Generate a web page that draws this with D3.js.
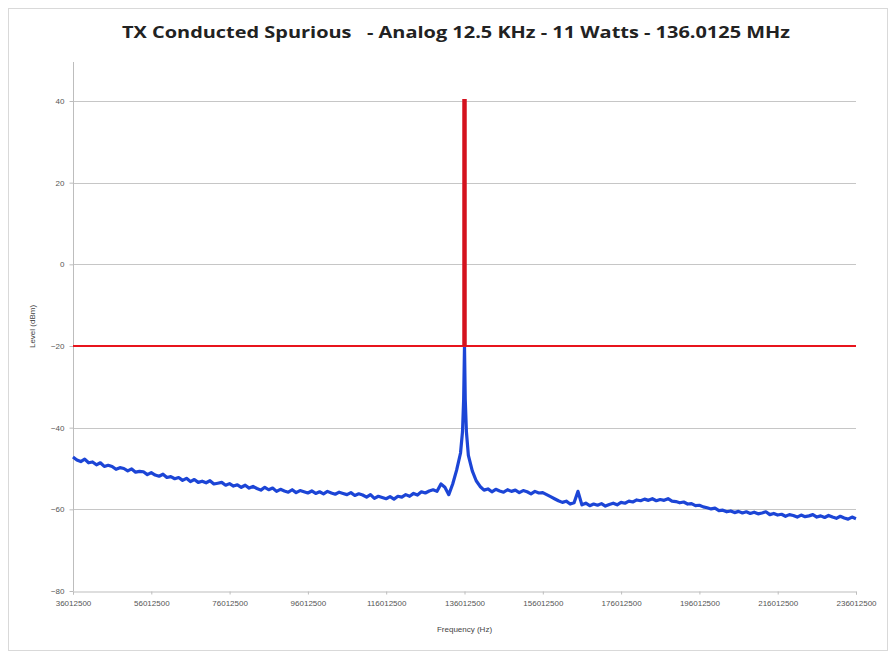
<!DOCTYPE html>
<html>
<head>
<meta charset="utf-8">
<script src="https://cdn.jsdelivr.net/npm/d3@7/dist/d3.min.js"></script>
<style>
  html, body { margin: 0; padding: 0; background: #fff; }
  svg { display: block; }
</style>
</head>
<body>
<svg id="chart" width="891" height="652"></svg>
<script>
// ---------------- DATA ----------------
const titleText = "TX Conducted Spurious   - Analog 12.5 KHz - 11 Watts - 136.0125 MHz";
const yAxisTitle = "Level (dBm)";
const xAxisTitle = "Frequency (Hz)";

// x ticks (MHz) and their labels (Hz)
const xTickValues = [36.0125, 56.0125, 76.0125, 96.0125, 116.0125, 136.0125, 156.0125, 176.0125, 196.0125, 216.0125, 236.0125];
const xTickLabels = ["36012500", "56012500", "76012500", "96012500", "116012500", "136012500", "156012500", "176012500", "196012500", "216012500", "236012500"];
const yTickValues = [-80, -60, -40, -20, 0, 20, 40];

// measured trace (frequency in MHz, level in dBm)
const traceFreq = [
  36, 37, 38, 39, 40, 41, 42, 43, 44, 45,
  46, 47, 48, 49, 50, 51, 52, 53, 54, 55,
  56, 57, 58, 59, 60, 61, 62, 63, 64, 65,
  66, 67, 68, 69, 70, 71, 72, 73, 74, 75,
  76, 77, 78, 79, 80, 81, 82, 83, 84, 85,
  86, 87, 88, 89, 90, 91, 92, 93, 94, 95,
  96, 97, 98, 99, 100, 101, 102, 103, 104, 105,
  106, 107, 108, 109, 110, 111, 112, 113, 114, 115,
  116, 117, 118, 119, 120, 121, 122, 123, 124, 125,
  126, 127, 128, 129, 130, 131, 132, 133, 134, 135,
  135.5, 135.8, 136.0125, 136.2, 136.5,
  137, 138, 139, 140, 141, 142, 143, 144, 145, 146,
  147, 148, 149, 150, 151, 152, 153, 154, 155, 156,
  157, 158, 159, 160, 161, 162, 163, 164, 165, 166,
  167, 168, 169, 170, 171, 172, 173, 174, 175, 176,
  177, 178, 179, 180, 181, 182, 183, 184, 185, 186,
  187, 188, 189, 190, 191, 192, 193, 194, 195, 196,
  197, 198, 199, 200, 201, 202, 203, 204, 205, 206,
  207, 208, 209, 210, 211, 212, 213, 214, 215, 216,
  217, 218, 219, 220, 221, 222, 223, 224, 225, 226,
  227, 228, 229, 230, 231, 232, 233, 234, 235, 236
];
const traceLevel = [
  -47.2, -47.9, -48.3, -47.7, -48.6, -48.4, -49.1, -48.6, -49.5, -49.2,
  -49.5, -50.2, -49.8, -50.0, -50.6, -50.1, -50.9, -50.7, -50.8, -51.5,
  -51.0, -51.6, -51.9, -51.4, -52.2, -52.0, -52.5, -52.2, -52.9, -52.4,
  -53.2, -52.7, -53.4, -53.1, -53.5, -53.0, -53.8, -53.6, -53.4, -54.1,
  -53.7, -54.3, -54.0, -54.6, -54.1, -54.8, -54.4, -54.9, -55.3, -54.6,
  -55.2, -54.8, -55.6, -55.1, -55.5, -55.8, -55.2, -55.9, -55.4, -55.7,
  -56.0, -55.5, -56.1, -55.7, -56.2, -55.6, -56.0, -56.3, -55.8, -56.1,
  -56.4, -55.9, -56.6, -56.2, -56.5, -57.0, -56.4, -57.3, -56.8, -57.1,
  -57.4, -56.9, -57.5, -56.8, -57.0, -56.4, -56.8, -56.1, -56.5, -55.7,
  -56.0, -55.5, -55.2, -55.6, -53.8, -54.6, -56.4, -53.8, -50.4, -46.2,
  -41.0, -33.0, -20.0, -33.0, -41.0,
  -46.8, -50.6, -53.0, -54.4, -55.3, -55.0, -55.7, -55.1, -55.5, -55.8,
  -55.2, -55.6, -55.3, -55.9, -55.4, -55.7, -56.2, -55.6, -56.0, -55.9,
  -56.4, -56.9, -57.4, -57.9, -58.3, -58.0, -58.7, -58.4, -55.6, -58.9,
  -58.5, -59.1, -58.7, -59.0, -58.6, -59.2, -58.8, -58.5, -58.9, -58.3,
  -58.5, -58.0, -58.2, -57.7, -57.9, -57.5, -57.8, -57.4, -57.9, -57.6,
  -57.8, -57.4, -58.0, -58.1, -58.4, -58.2, -58.7, -58.6, -59.1, -59.0,
  -59.4, -59.6, -59.9, -59.7, -60.3, -60.2, -60.6, -60.4, -60.8, -60.5,
  -60.9, -60.6, -61.0, -60.7, -61.1, -60.9, -60.6, -61.3, -61.0, -61.4,
  -61.2, -61.7, -61.3, -61.5, -61.9, -61.4, -61.8, -61.6, -61.3, -61.9,
  -61.6, -62.0, -61.5, -61.9, -62.2, -61.7, -62.1, -62.4, -61.9, -62.3
];

// carrier above limit (drawn red) and the spurious limit line
const carrierFreq = [136.0125, 136.0125];
const carrierLevel = [-20, 40.5];
const limitFreq = [36.0125, 236.0125];
const limitLevel = [-20, -20];

// ---------------- LAYOUT ----------------
const svg = d3.select("#chart");
const plot = { left: 73, right: 856, top: 62, bottom: 591 };

const x = d3.scaleLinear().domain([36.0125, 236.0125]).range([plot.left, plot.right]);
const y = d3.scaleLinear().domain([-80, 40]).range([plot.bottom, 101]);

// outer border
svg.append("rect")
  .attr("x", 8.5).attr("y", 8.5).attr("width", 879).attr("height", 642)
  .attr("fill", "#fff").attr("stroke", "#d9d9d9").attr("stroke-width", 1);

// title
svg.append("text")
  .attr("x", 456).attr("y", 38)
  .attr("text-anchor", "middle")
  .attr("font-family", "'Open Sans', 'Liberation Sans', sans-serif")
  .attr("font-weight", "bold")
  .attr("font-size", 16)
  .attr("fill", "#222")
  .style("white-space", "pre")
  .attr("textLength", 668)
  .attr("lengthAdjust", "spacingAndGlyphs")
  .text(titleText);

// gridlines
svg.append("g")
  .selectAll("line")
  .data(yTickValues.filter(v => v !== -80))
  .join("line")
  .attr("x1", plot.left).attr("x2", plot.right)
  .attr("y1", d => Math.round(y(d)) + 0.5).attr("y2", d => Math.round(y(d)) + 0.5)
  .attr("stroke", "#c6c6c6").attr("stroke-width", 1);

// y axis
const yAxis = d3.axisLeft(y).tickValues(yTickValues).tickSize(4).tickPadding(5).tickFormat(d3.format("d"));
const gy = svg.append("g").attr("transform", `translate(${plot.left + 0.5},0)`).call(yAxis);
gy.select(".domain").remove();
gy.append("line").attr("x1", 0).attr("x2", 0).attr("y1", plot.top).attr("y2", plot.bottom).attr("stroke", "#bdbdbd");
gy.selectAll(".tick line").attr("stroke", "#bdbdbd");
gy.selectAll(".tick text").attr("font-family", "'Liberation Sans', sans-serif").attr("font-size", 8).attr("fill", "#555");

// x axis
const xAxis = d3.axisBottom(x).tickValues(xTickValues).tickSize(3).tickPadding(6)
  .tickFormat((d, i) => xTickLabels[i]);
const gx = svg.append("g").attr("transform", `translate(0,${Math.round(y(-80)) + 0.5})`).call(xAxis);
gx.select(".domain").attr("stroke", "#bdbdbd");
gx.selectAll(".tick line").attr("stroke", "#bdbdbd");
gx.selectAll(".tick text").attr("font-family", "'Liberation Sans', sans-serif").attr("font-size", 8).attr("fill", "#555");

// axis titles
svg.append("text")
  .attr("transform", `translate(35,${(plot.top + plot.bottom) / 2}) rotate(-90)`)
  .attr("text-anchor", "middle")
  .attr("font-family", "'Liberation Sans', sans-serif")
  .attr("font-size", 8).attr("fill", "#444")
  .text(yAxisTitle);

svg.append("text")
  .attr("x", (plot.left + plot.right) / 2).attr("y", 632)
  .attr("text-anchor", "middle")
  .attr("font-family", "'Liberation Sans', sans-serif")
  .attr("font-size", 8).attr("fill", "#444")
  .text(xAxisTitle);

// trace
const line = d3.line().x(d => x(d[0])).y(d => y(d[1]));
const tracePts = traceFreq.map((f, i) => [f, traceLevel[i]]);
svg.append("path")
  .datum(tracePts)
  .attr("d", line)
  .attr("fill", "none")
  .attr("stroke", "#1c45d6")
  .attr("stroke-width", 3.2)
  .attr("stroke-linejoin", "round");

// limit line
svg.append("path")
  .datum(limitFreq.map((f, i) => [f, limitLevel[i]]))
  .attr("d", line)
  .attr("fill", "none")
  .attr("stroke", "#e8141c")
  .attr("stroke-width", 2);

// carrier above limit
svg.append("path")
  .datum(carrierFreq.map((f, i) => [f, carrierLevel[i]]))
  .attr("d", line)
  .attr("fill", "none")
  .attr("stroke", "#d4121e")
  .attr("stroke-width", 4.5);
</script>
</body>
</html>
